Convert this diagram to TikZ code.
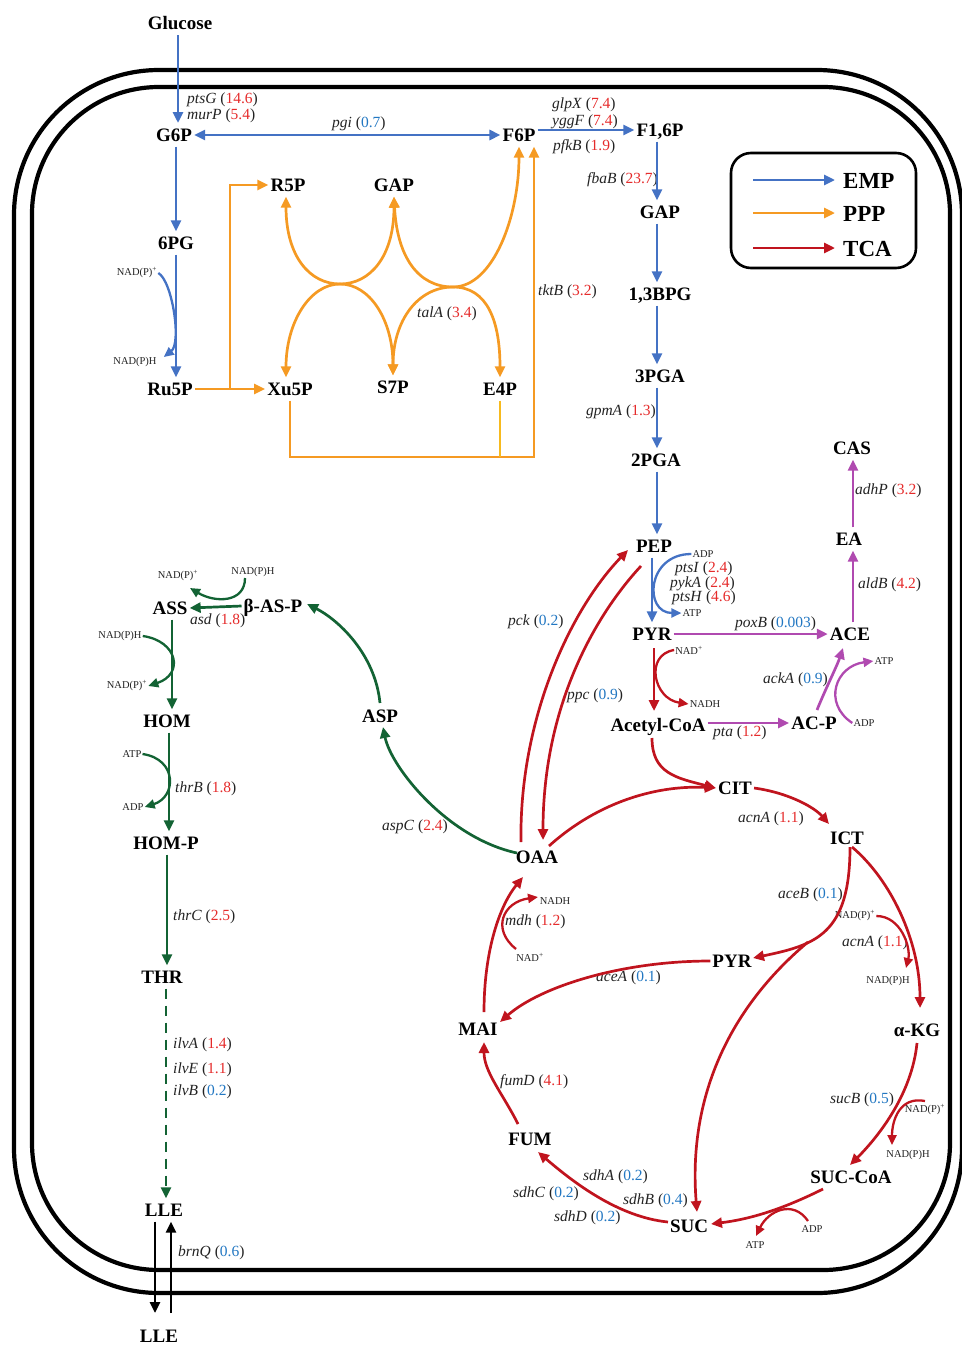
\documentclass[tikz,border=0pt]{standalone}
\usepackage{fontspec}
\setmainfont{Liberation Serif}
\usetikzlibrary{arrows.meta,calc}
\definecolor{cemp}{HTML}{4472C4}
\definecolor{cppp}{HTML}{F59A23}
\definecolor{cyel}{HTML}{F7BA1E}
\definecolor{ctca}{HTML}{C0141E}
\definecolor{cgrn}{HTML}{136334}
\definecolor{cpur}{HTML}{B04AB0}
\definecolor{nred}{HTML}{E52B2B}
\definecolor{nblu}{HTML}{2277C2}
\definecolor{gtxt}{HTML}{222222}
\newcommand{\upn}[1]{\textcolor{nred}{#1}}
\newcommand{\dnn}[1]{\textcolor{nblu}{#1}}
\newcommand{\gn}[2]{\textit{#1} (#2)}
\begin{document}
\begin{tikzpicture}[x=1pt,y=-1pt,
  >={Triangle[length=11pt,width=10pt]},
  met/.style={font=\fontsize{19}{20}\selectfont\bfseries, inner xsep=2pt, inner ysep=5pt, text height=13pt, text depth=0pt},
  gene/.style={font=\fontsize{15.5}{17}\selectfont, text=gtxt, inner sep=0pt, anchor=west},
  cof/.style={font=\fontsize{10.5}{11}\selectfont, text=gtxt, inner sep=1pt},
  leg/.style={font=\fontsize{23}{24}\selectfont\bfseries, inner sep=0pt, anchor=west},
  emp/.style={draw=cemp, line width=2.7pt},
  ppp/.style={draw=cppp, line width=2.7pt},
  tca/.style={draw=ctca, line width=2.7pt},
  pur/.style={draw=cpur, line width=2.7pt},
  grn/.style={draw=cgrn, line width=2.7pt},
  blk/.style={draw=black, line width=2.7pt},
  cofl/.style={line width=2.3pt, >={Triangle[length=10pt,width=9pt]}}
]
\useasboundingbox (0,0) rectangle (961,1349);
% cell envelope
\draw[line width=4.2pt, rounded corners=145pt] (14,70) rectangle (962,1293);
\draw[line width=4.2pt, rounded corners=127pt] (32,87) rectangle (950,1270);

% legend
\draw[line width=2.6pt, rounded corners=20pt] (731,153) rectangle (916,268);
\node[leg] (lemp) at (843,181) {EMP};
\node[leg] (lppp) at (843,214) {PPP};
\node[leg] (ltca) at (843,249) {TCA};
\draw[emp,->] ($(lemp.west)+(-90,-1)$) -- ($(lemp.west)+(-8,-1)$);
\draw[ppp,->] ($(lppp.west)+(-90,-1)$) -- ($(lppp.west)+(-8,-1)$);
\draw[tca,->] ($(ltca.west)+(-90,-1)$) -- ($(ltca.west)+(-8,-1)$);

% metabolites
\node[met] (glc) at (180,23) {Glucose};
\node[met] (g6p) at (174,135) {G6P};
\node[met] (f6p) at (519,135) {F6P};
\node[met] (f16p) at (660,130) {F1,6P};
\node[met] (pg6) at (176,243) {6PG};
\node[met] (ru5p) at (170,389) {Ru5P};
\node[met] (r5p) at (288,185) {R5P};
\node[met] (gapp) at (394,185) {GAP};
\node[met] (xu5p) at (290,389) {Xu5P};
\node[met] (s7p) at (393,387) {S7P};
\node[met] (e4p) at (500,389) {E4P};
\node[met] (gap) at (660,212) {GAP};
\node[met] (bpg) at (660,294) {1,3BPG};
\node[met] (pga3) at (660,376) {3PGA};
\node[met] (pga2) at (656,460) {2PGA};
\node[met] (pep) at (654,546) {PEP};
\node[met] (pyr) at (652,634) {PYR};
\node[met] (accoa) at (658,725) {Acetyl-CoA};
\node[met] (ace) at (850,634) {ACE};
\node[met] (ea) at (849,539) {EA};
\node[met] (cas) at (852,448) {CAS};
\node[met] (acp) at (814,723) {AC-P};
\node[met] (cit) at (735,788) {CIT};
\node[met] (ict) at (847,838) {ICT};
\node[met] (oaa) at (537,857) {OAA};
\node[met] (pyrb) at (732,961) {PYR};
\node[met] (mai) at (478,1029) {MAI};
\node[met] (akg) at (917,1030) {α-KG};
\node[met] (fum) at (530,1139) {FUM};
\node[met] (succoa) at (851,1177) {SUC-CoA};
\node[met] (suc) at (689,1226) {SUC};
\node[met] (asp) at (380,716) {ASP};
\node[met] (basp) at (273,606) {β-AS-P};
\node[met] (ass) at (170,608) {ASS};
\node[met] (hom) at (167,721) {HOM};
\node[met] (homp) at (166,843) {HOM-P};
\node[met] (thr) at (162,977) {THR};
\node[met] (lle) at (164,1210) {LLE};
\node[met] (lleo) at (159,1336) {LLE};

% cofactor labels
\node[cof] (nadp1) at (137,273) {NAD(P)\textsuperscript{+}};
\node[cof] (nadph1) at (135,362) {NAD(P)H};
\node[cof] (adp1) at (703,554) {ADP};
\node[cof] (atp1) at (692,613) {ATP};
\node[cof] (nad1) at (689,650) {NAD\textsuperscript{+}};
\node[cof] (nadh1) at (705,704) {NADH};
\node[cof] (nadp2) at (855,916) {NAD(P)\textsuperscript{+}};
\node[cof] (nadph2) at (888,981) {NAD(P)H};
\node[cof] (nad2) at (530,957) {NAD\textsuperscript{+}};
\node[cof] (nadh2) at (555,901) {NADH};
\node[cof] (nadp3) at (925,1110) {NAD(P)\textsuperscript{+}};
\node[cof] (nadph3) at (908,1155) {NAD(P)H};
\node[cof] (adp3) at (812,1229) {ADP};
\node[cof] (atp3) at (755,1245) {ATP};
\node[cof] (adp4) at (864,723) {ADP};
\node[cof] (atp4) at (884,661) {ATP};
\node[cof] (nadph4) at (253,572) {NAD(P)H};
\node[cof] (nadp4) at (178,576) {NAD(P)\textsuperscript{+}};
\node[cof] (nadph5) at (120,636) {NAD(P)H};
\node[cof] (nadp5) at (127,686) {NAD(P)\textsuperscript{+}};
\node[cof] (atp5) at (132,754) {ATP};
\node[cof] (adp5) at (133,807) {ADP};

% gene labels
\node[gene] (t1) at (187,100) {\gn{ptsG}{\upn{14.6}}};
\node[gene] (t2) at (187,116) {\gn{murP}{\upn{5.4}}};
\node[gene] (t3) at (332,124) {\gn{pgi}{\dnn{0.7}}};
\node[gene] (t4) at (552,105) {\gn{glpX}{\upn{7.4}}};
\node[gene] (t5) at (552,122) {\gn{yggF}{\upn{7.4}}};
\node[gene] (t6) at (553,147) {\gn{pfkB}{\upn{1.9}}};
\node[gene,anchor=east] (t7) at (658,180) {\gn{fbaB}{\upn{23.7}}};
\node[gene,anchor=east] (t8) at (656,412) {\gn{gpmA}{\upn{1.3}}};
\node[gene] (t9) at (538,292) {\gn{tktB}{\upn{3.2}}};
\node[gene] (t10) at (417,314) {\gn{talA}{\upn{3.4}}};
\node[gene] (t11) at (675,569) {\gn{ptsI}{\upn{2.4}}};
\node[gene] (t12) at (670,584) {\gn{pykA}{\upn{2.4}}};
\node[gene] (t13) at (672,598) {\gn{ptsH}{\upn{4.6}}};
\node[gene] (t14) at (508,622) {\gn{pck}{\dnn{0.2}}};
\node[gene] (t15) at (567,696) {\gn{ppc}{\dnn{0.9}}};
\node[gene] (t16) at (735,624) {\gn{poxB}{\dnn{0.003}}};
\node[gene] (t17) at (713,733) {\gn{pta}{\upn{1.2}}};
\node[gene] (t18) at (763,680) {\gn{ackA}{\dnn{0.9}}};
\node[gene] (t19) at (858,585) {\gn{aldB}{\upn{4.2}}};
\node[gene] (t20) at (855,491) {\gn{adhP}{\upn{3.2}}};
\node[gene] (t21) at (382,827) {\gn{aspC}{\upn{2.4}}};
\node[gene] (t22) at (505,922) {\gn{mdh}{\upn{1.2}}};
\node[gene] (t23) at (738,819) {\gn{acnA}{\upn{1.1}}};
\node[gene] (t24) at (778,895) {\gn{aceB}{\dnn{0.1}}};
\node[gene] (t25) at (842,943) {\gn{acnA}{\upn{1.1}}};
\node[gene] (t26) at (596,978) {\gn{aceA}{\dnn{0.1}}};
\node[gene] (t27) at (500,1082) {\gn{fumD}{\upn{4.1}}};
\node[gene] (t28) at (830,1100) {\gn{sucB}{\dnn{0.5}}};
\node[gene] (t29) at (583,1177) {\gn{sdhA}{\dnn{0.2}}};
\node[gene] (t30) at (513,1194) {\gn{sdhC}{\dnn{0.2}}};
\node[gene] (t31) at (623,1201) {\gn{sdhB}{\dnn{0.4}}};
\node[gene] (t32) at (554,1218) {\gn{sdhD}{\dnn{0.2}}};
\node[gene] (t33) at (190,621) {\gn{asd}{\upn{1.8}}};
\node[gene] (t34) at (175,789) {\gn{thrB}{\upn{1.8}}};
\node[gene] (t35) at (173,917) {\gn{thrC}{\upn{2.5}}};
\node[gene] (t36) at (173,1045) {\gn{ilvA}{\upn{1.4}}};
\node[gene] (t37) at (173,1070) {\gn{ilvE}{\upn{1.1}}};
\node[gene] (t38) at (173,1092) {\gn{ilvB}{\dnn{0.2}}};
\node[gene] (t39) at (178,1253) {\gn{brnQ}{\dnn{0.6}}};

% ===== EMP =====
\draw[emp,->] ($(glc)+(-2,12)$) -- ($(g6p)+(4,-12)$);
\draw[emp,<->] (g6p.east) -- (f6p.west);
\draw[emp,->] (f6p.east |- f16p) -- (f16p.west);
\draw[emp,->] ($(f16p.south)+(-3,0)$) -- ($(gap.north)+(-3,0)$);
\draw[emp,->] ($(gap.south)+(-3,0)$) -- ($(bpg.north)+(-3,0)$);
\draw[emp,->] ($(bpg.south)+(-3,0)$) -- ($(pga3.north)+(-3,0)$);
\draw[emp,->] ($(pga3.south)+(-3,0)$) -- ($(pga2.north)+(1,0)$);
\draw[emp,->] ($(pga2.south)+(1,0)$) -- ($(pep.north)+(3,0)$);
\draw[emp,->] (g6p.south -| pg6) -- (pg6.north);
\draw[emp,->] (pg6.south) -- (pg6.south |- ru5p.north);
\draw[emp,cofl,->] (nadp1.east) .. controls +(14,8) and +(18,-14) .. ($(nadph1.east)+(6,-5)$);
\draw[emp,->] (pep.south -| pyr.north) -- (pyr.north);
\draw[emp,cofl,->] (adp1.west) .. controls +(-45,0) and +(-38,0) .. (atp1.west);

% ===== PPP =====
\draw[ppp,->] (ru5p.east) -- (xu5p.west);
\coordinate (rb) at (230,389);
\draw[ppp,->] (rb) |- (r5p.west);
\coordinate (x1) at (340,284);
\coordinate (x2) at (453,287);
\draw[ppp,<->] ($(r5p.south)+(-2,0)$) .. controls +(0,60) and +(-30,0) .. (x1) .. controls +(30,0) and +(0,60) .. (gapp.south);
\draw[ppp,<->] (gapp.south) .. controls +(3,60) and +(-35,0) .. (x2) .. controls +(40,0) and +(0,70) .. (f6p.south);
\draw[ppp,<->] ($(xu5p.north)+(-4,0)$) .. controls +(0,-55) and +(-30,0) .. (x1) .. controls +(30,0) and +(0,-55) .. (s7p.north);
\draw[ppp,<->] (s7p.north) .. controls +(0,-55) and +(-35,0) .. (x2) .. controls +(35,0) and +(0,-55) .. (e4p.north);
\coordinate (rt) at (534,457);
\draw[ppp,->] (xu5p.south) |- (rt) -- (rt |- f6p.south);
\draw[draw=cyel, line width=2.7pt] (e4p.south) -- (e4p.south |- rt);

% ===== TCA =====
\draw[tca,->] ($(pyr)+(2,14)$) -- ($(pyr)+(2,77)$);
\draw[tca,cofl,->] (nad1.west) .. controls +(-30,5) and +(-35,-5) .. (nadh1.west);
\draw[tca,->] ($(accoa)+(-6,13)$) .. controls +(0,35) and +(-40,-10) .. (cit.west);
\draw[tca,->] ($(pep)+(-13,20)$) .. controls (600,610) and (543,700) .. ($(oaa)+(6,-17)$);
\draw[tca,->] ($(oaa)+(-16,-15)$) .. controls (519,720) and (570,610) .. ($(pep)+(-26,4)$);
\draw[tca,->] ($(oaa)+(12,-11)$) .. controls (600,800) and (660,785) .. (cit.west);
\draw[tca,->] (cit.east) .. controls (790,793) and (815,808) .. ($(ict)+(-18,-14)$);
\draw[tca,->] ($(ict)+(5,9)$) .. controls +(38,32) and +(0,-68) .. ($(akg)+(3,-22)$);
\draw[tca,cofl,->] (nadp2.east) .. controls +(25,0) and +(5,-20) .. ($(nadph2)+(18,-13)$);
\draw[tca,->] ($(ict)+(3,9)$) .. controls +(0,88) and +(62,-13) .. ($(pyrb)+(21,-3)$);
\coordinate (bs) at (808,942);
\draw[tca,->] (bs) .. controls (727,1010) and (688,1100) .. ($(suc)+(8,-14)$);
\draw[tca,->] (pyrb.west) .. controls +(-90,0) and +(40,-35) .. ($(mai)+(22,-7)$);
\draw[tca,->] ($(mai)+(6,-17)$) .. controls (484,950) and (500,905) .. ($(oaa)+(-14,20)$);
\draw[tca,cofl,->] ($(nad2)+(-14,-8)$) .. controls +(-25,-20) and +(-35,5) .. ($(nadh2)+(-17,-4)$);
\draw[tca,->] ($(fum)+(-12,-15)$) .. controls +(-15,-30) and +(0,30) .. ($(mai)+(6,13)$);
\draw[tca,->] ($(suc)+(-21,-4)$) .. controls +(-50,-5) and +(35,30) .. ($(fum)+(8,13)$);
\draw[tca,->] ($(akg)+(0,13)$) .. controls +(-5,50) and +(30,-30) .. ($(succoa)+(-1,-12)$);
\draw[tca,cofl,->] ($(nadp3)+(0,-9)$) .. controls +(-25,-5) and +(0,-25) .. ($(nadph3)+(-16,-10)$);
\draw[tca,->] ($(succoa)+(-28,12)$) .. controls +(-40,20) and +(40,-5) .. ($(suc)+(22,-2)$);
\draw[tca,cofl,->] ($(adp3)+(-4,-8)$) .. controls +(-15,-22) and +(12,-25) .. ($(atp3)+(1,-9)$);

% ===== acetate branch =====
\draw[pur,->] (pyr.east) -- (pyr.east -| ace.west);
\draw[pur,->] (accoa.east |- acp) -- (acp.west);
\draw[pur,->] ($(acp)+(3,-13)$) .. controls +(8,-20) and +(-6,18) .. ($(ace)+(-7,14)$);
\draw[pur,cofl,->] (adp4.west) .. controls +(-30,-20) and +(-38,5) .. (atp4.west);
\draw[pur,->] ($(ace.north)+(3,0)$) -- ($(ea.south)+(4,0)$);
\draw[pur,->] ($(ea.north)+(4,0)$) -- ($(cas.south)+(1,0)$);

% ===== threonine / LLE branch =====
\draw[grn,->] ($(oaa)+(-20,-4)$) .. controls +(-70,-15) and +(8,40) .. ($(asp)+(3,11)$);
\draw[grn,->] ($(asp)+(0,-13)$) .. controls +(-5,-50) and +(30,15) .. ($(basp)+(34,-2)$);
\draw[grn,->] (basp.west) -- (ass.east);
\draw[grn,cofl,->] ($(nadph4)+(-8,6)$) .. controls +(0,25) and +(25,15) .. ($(nadp4)+(12,12)$);
\draw[grn,->] ($(ass.south)+(2,0)$) -- ($(hom.north)+(5,0)$);
\draw[grn,cofl,->] (nadph5.east) .. controls +(35,5) and +(36,-12) .. (nadp5.east);
\draw[grn,->] ($(hom.south)+(2,0)$) -- ($(homp.north)+(3,0)$);
\draw[grn,cofl,->] (atp5.east) .. controls +(35,5) and +(32,-10) .. (adp5.east);
\draw[grn,->] ($(homp.south)+(1,0)$) -- ($(thr.north)+(5,0)$);
\draw[grn,->,dash pattern=on 10pt off 7pt] ($(thr.south)+(4,0)$) -- ($(lle.north)+(2,0)$);
\draw[blk,->] ($(lle.south)+(-9,0)$) -- ($(lleo)+(-4,-23)$);
\draw[blk,->] ($(lleo)+(12,-23)$) -- ($(lle.south)+(7,0)$);
\end{tikzpicture}
\end{document}
